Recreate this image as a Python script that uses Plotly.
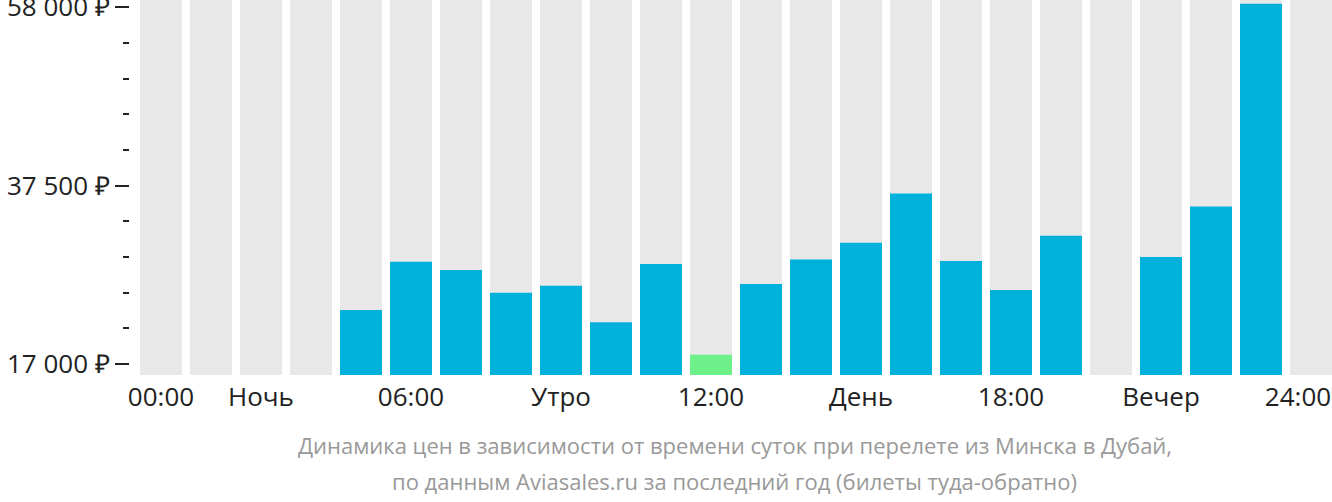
import plotly.graph_objects as go

hours = list(range(24))
prices = [None, None, None, None, 23200, 28750, 27800, 25200, 26000, 21800, 28500,
          18050, 26200, 29000, 30950, 36600, 28850, 25500, 31750, None, 29300, 35100,
          58400, None]
cheapest_hour = 11
tick_positions = [0, 2, 5, 8, 11, 14, 17, 20, 22.74]
tick_labels = ["00:00", "Ночь", "06:00", "Утро", "12:00", "День", "18:00", "Вечер", "24:00"]
y_tickvals = [17000, 37500, 58000]
y_ticktext = ["17 000 ₽", "37 500 ₽", "58 000 ₽"]
caption_lines = ["Динамика цен в зависимости от времени суток при перелете из Минска в Дубай,",
                 "по данным Aviasales.ru за последний год (билеты туда-обратно)"]

Y_MIN, Y_MAX = 15736, 58840

colors = ["#6ef08a" if h == cheapest_hour else "#00b1dc" for h in hours]
bg_vals = [Y_MAX - Y_MIN] * 24
vals = [None if p is None else p - Y_MIN for p in prices]

fig = go.Figure()
fig.add_trace(go.Bar(x=hours, y=bg_vals, base=Y_MIN, width=0.84,
                     marker=dict(color="#e8e8e8", line=dict(width=0)),
                     hoverinfo="skip", showlegend=False))
fig.add_trace(go.Bar(x=hours, y=vals, base=Y_MIN, width=0.84,
                     marker=dict(color=colors, line=dict(width=0)),
                     customdata=prices, hovertemplate="%{customdata} ₽<extra></extra>",
                     showlegend=False))

fig.update_layout(
    width=1332, height=502,
    margin=dict(l=130, r=0, t=0, b=127),
    barmode="overlay",
    plot_bgcolor="white", paper_bgcolor="white",
    font=dict(family="Open Sans", size=26, color="#222"),
    xaxis=dict(range=[-0.62, 23.42], tickmode="array", tickvals=tick_positions,
               ticktext=tick_labels, showgrid=False, zeroline=False, showline=False,
               ticks="", ticklabelstandoff=4, automargin=False,
               tickfont=dict(size=26, color="#222"), fixedrange=True),
    yaxis=dict(range=[Y_MIN, Y_MAX], tickmode="array", tickvals=y_tickvals,
               ticktext=y_ticktext, showgrid=False, zeroline=False, showline=False,
               ticks="outside", ticklen=14, tickwidth=2, tickcolor="#222",
               tickfont=dict(size=26, color="#222"), ticklabeloverflow="allow",
               automargin=False,
               minor=dict(tickmode="linear", tick0=17000, dtick=4100, ticks="outside",
                          ticklen=6, tickwidth=2, tickcolor="#222", showgrid=False),
               fixedrange=True),
    annotations=[
        dict(text=caption_lines[0], xref="paper", yref="paper", x=0.503, y=-0.1867,
             xanchor="center", yanchor="middle", showarrow=False,
             font=dict(family="Open Sans", size=22, color="#999")),
        dict(text=caption_lines[1], xref="paper", yref="paper", x=0.503, y=-0.2827,
             xanchor="center", yanchor="middle", showarrow=False,
             font=dict(family="Open Sans", size=22, color="#999")),
    ],
)

fig.write_html("out.html")
